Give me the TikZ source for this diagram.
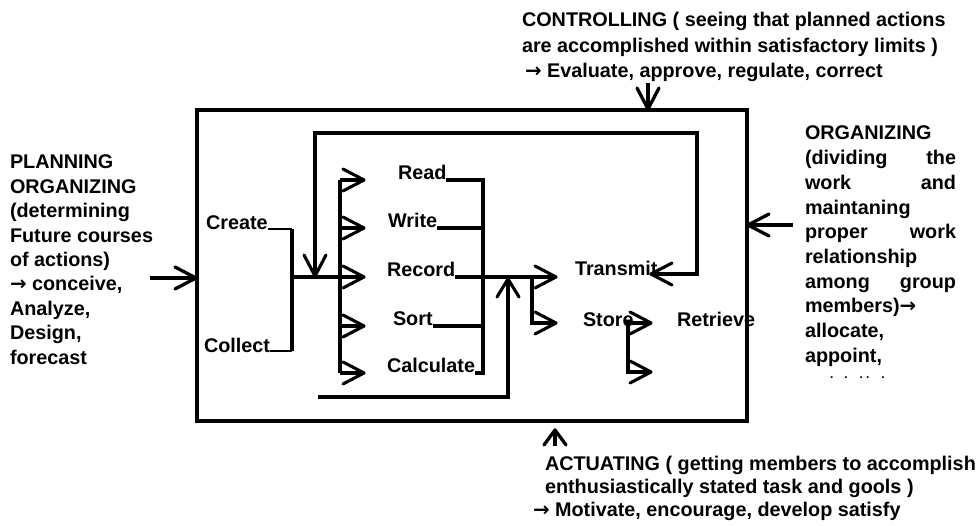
\documentclass[tikz,border=0pt]{standalone}
\usepackage{fontspec}
\setmainfont{Liberation Sans}
\newfontfamily\arrowfont{DejaVu Sans}
\usetikzlibrary{arrows.meta}
\pgfdeclarearrow{
  name = VBarb,
  parameters = {\the\pgfarrowlength,\the\pgfarrowwidth},
  setup code = {
    \pgfarrowssettipend{0pt}
    \pgfarrowssetbackend{-\pgfarrowlength}
    \pgfarrowssetlineend{-0.5\pgflinewidth}
    \pgfarrowshullpoint{0pt}{0pt}
    \pgfarrowshullpoint{-\pgfarrowlength}{.5\pgfarrowwidth}
    \pgfarrowshullpoint{-\pgfarrowlength}{-.5\pgfarrowwidth}
    \pgfarrowssavethe\pgfarrowlength
    \pgfarrowssavethe\pgfarrowwidth
  },
  drawing code = {
    \pgfsetdash{}{0pt}
    \pgfsetroundjoin
    \pgfsetroundcap
    \pgfpathmoveto{\pgfqpoint{-\pgfarrowlength}{.5\pgfarrowwidth}}
    \pgfpathlineto{\pgfqpoint{-0.3\pgflinewidth}{0pt}}
    \pgfpathlineto{\pgfqpoint{-\pgfarrowlength}{-.5\pgfarrowwidth}}
    \pgfusepathqstroke
  },
  defaults = {length = 22pt, width = 22pt}
}
\begin{document}
\begin{tikzpicture}[x=1pt,y=-1pt,
  >={VBarb[length=22pt,width=22pt]},
  lbl/.style={inner sep=0pt,outer sep=0pt,anchor=base west,font=\fontsize{19.8}{24}\selectfont\bfseries},
  lble/.style={lbl,anchor=base east},
  wire/.style={line width=3.1pt,line join=miter},
  owire/.style={line width=3.3pt,line join=miter},
  frame/.style={draw,line width=3.4pt,inner sep=0pt,outer sep=0pt,minimum width=550pt,minimum height=311pt,anchor=north west},
  link/.style={line width=2pt}]
\fill[white] (0,0) rectangle (980,526);
\path[use as bounding box] (0,0) rectangle (980,526);

% frame
\node[frame] (box) at (197,110) {};

% inner labels
\node[lbl] (create)  at (206,230) {Create};
\node[lbl] (collect) at (204,353) {Collect};
\node[lbl] (read)    at (398,180) {Read};
\node[lbl] (write)   at (388,228) {Write};
\node[lbl] (record)  at (387,277) {Record};
\node[lbl] (sort)    at (393,326) {Sort};
\node[lbl] (calc)    at (387,373) {Calculate};
\node[lbl] (transmit) at (575,276) {Transmit};
\node[lbl] (store)   at (583,327) {Store};
\node[lbl] (retrieve) at (677,327) {Retrieve};

% coordinates
\coordinate (cre) at (292,229);
\coordinate (cole) at (292,351);
\coordinate (jn) at (292,277);
\coordinate (va) at (340,180);
\coordinate (vw) at (340,228);
\coordinate (vs) at (340,326);
\coordinate (vc) at (340,373);
\coordinate (ta) at (365,180);
\coordinate (tw) at (365,228);
\coordinate (tr) at (365,277);
\coordinate (ts) at (365,326);
\coordinate (tc) at (365,373);
\coordinate (rcol) at (483,200);
\coordinate (tx) at (557,277);
\coordinate (sj) at (532,277);
\coordinate (sb) at (532,323);
\coordinate (st) at (557,323);
\coordinate (loopT) at (650,274);
\coordinate (loopA) at (697,274);
\coordinate (loopB) at (697,133);
\coordinate (loopC) at (315,133);
\coordinate (loopD) at (315,277);
\coordinate (ub1) at (318,397);
\coordinate (ub2) at (508,397);
\coordinate (ub3) at (508,278);
\coordinate (srA) at (652,323);
\coordinate (srB) at (628,323);
\coordinate (srC) at (628,372);
\coordinate (srD) at (652,372);
\coordinate (inL) at (150,278);
\coordinate (inR) at (793,225);
\coordinate (inT) at (648,83);
\coordinate (inB) at (555,446);
\coordinate (inBt) at (555,429);

% create / collect links
\draw[link] ([yshift=1pt]create.base east) -- (cre);
\draw[link] ([yshift=2pt]collect.base east) -- (cole);
\draw[wire] (cre) -- (cole);
\draw[wire,->] (jn) -- (tr);

% distribution bar with arrows
\draw[wire] (va) -- (vc);
\draw[wire,->] (va) -- (ta);
\draw[wire,->] (vw) -- (tw);
\draw[wire,->] (vs) -- (ts);
\draw[wire,->] (vc) -- (tc);

% collector on the right of the operations
\draw[wire] (read.base east) -- (read.base east -| rcol) -- (calc.base east -| rcol) -- (calc.base east);
\draw[wire] (write.base east) -- (write.base east -| rcol);
\draw[wire] (sort.base east) -- (sort.base east -| rcol);
\draw[wire,->] (record.base east) -- (tx);

% to store
\draw[wire,->] (sj) -- (sb) -- (st);

% feedback loop
\draw[wire,<->] (loopT) -- (loopA) -- (loopB) -- (loopC) -- (loopD);

% lower return
\draw[wire,-{VBarb[length=19pt,width=22pt]}] (ub1) -- (ub2) -- (ub3);

% store / retrieve
\draw[wire,<->] (srA) -- (srB) -- (srC) -- (srD);

% outer arrows
\draw[owire,->] (inL) -- (inL -| box.west);
\draw[owire,->] (inR) -- (inR -| box.east);
\draw[owire,->] (inT) -- (inT |- box.north);
\draw[owire,-{VBarb[length=16pt,width=22pt]}] (inB) -- (inBt);

% left text
\node[lbl] (p1) at (10,169)   {PLANNING};
\node[lbl] (p2) at (10,193.4) {ORGANIZING};
\node[lbl] (p3) at (10,217.8) {(determining};
\node[lbl] (p4) at (10,242.2) {Future courses};
\node[lbl] (p5) at (10,266.6) {of actions)};
\node[lbl] (p6) at (10,291)   {{\arrowfont →} conceive,};
\node[lbl] (p7) at (10,315.4) {Analyze,};
\node[lbl] (p8) at (10,339.8) {Design,};
\node[lbl] (p9) at (10,364.2) {forecast};

% right text
\node[lbl]  (o1)  at (805,140)   {ORGANIZING};
\node[lbl]  (o2)  at (805,164.7) {(dividing};
\node[lble] (o2b) at (956,164.7) {the};
\node[lbl]  (o3)  at (805,189.4) {work};
\node[lble] (o3b) at (956,189.4) {and};
\node[lbl]  (o4)  at (805,214.1) {maintaning};
\node[lbl]  (o5)  at (805,238.8) {proper};
\node[lble] (o5b) at (956,238.8) {work};
\node[lbl]  (o6)  at (805,263.5) {relationship};
\node[lbl]  (o7)  at (805,288.2) {among};
\node[lble] (o7b) at (956,288.2) {group};
\node[lbl]  (o8)  at (805,312.9) {members){\arrowfont →}};
\node[lbl]  (o9)  at (805,337.6) {allocate,};
\node[lbl]  (o10) at (805,362.3) {appoint,};
\node[lbl,font=\fontsize{12}{12}\selectfont\bfseries]  (o11) at (830,379) {.\hspace{11pt}.\hspace{12pt}.\hspace{3pt}.\hspace{12pt}.};

% top text
\node[lbl] (c1) at (522,27)   {CONTROLLING ( seeing that planned actions};
\node[lbl] (c2) at (522,52.5) {are accomplished within satisfactory limits )};
\node[lbl] (c3) at (525,78)   {{\arrowfont\bfseries →} Evaluate, approve, regulate, correct};

% bottom text
\node[lbl] (a1) at (545,470) {ACTUATING ( getting members to accomplish};
\node[lbl] (a2) at (545,493) {enthusiastically stated task and gools )};
\node[lbl] (a3) at (533,516) {{\arrowfont\bfseries →} Motivate, encourage, develop satisfy};
\end{tikzpicture}
\end{document}
